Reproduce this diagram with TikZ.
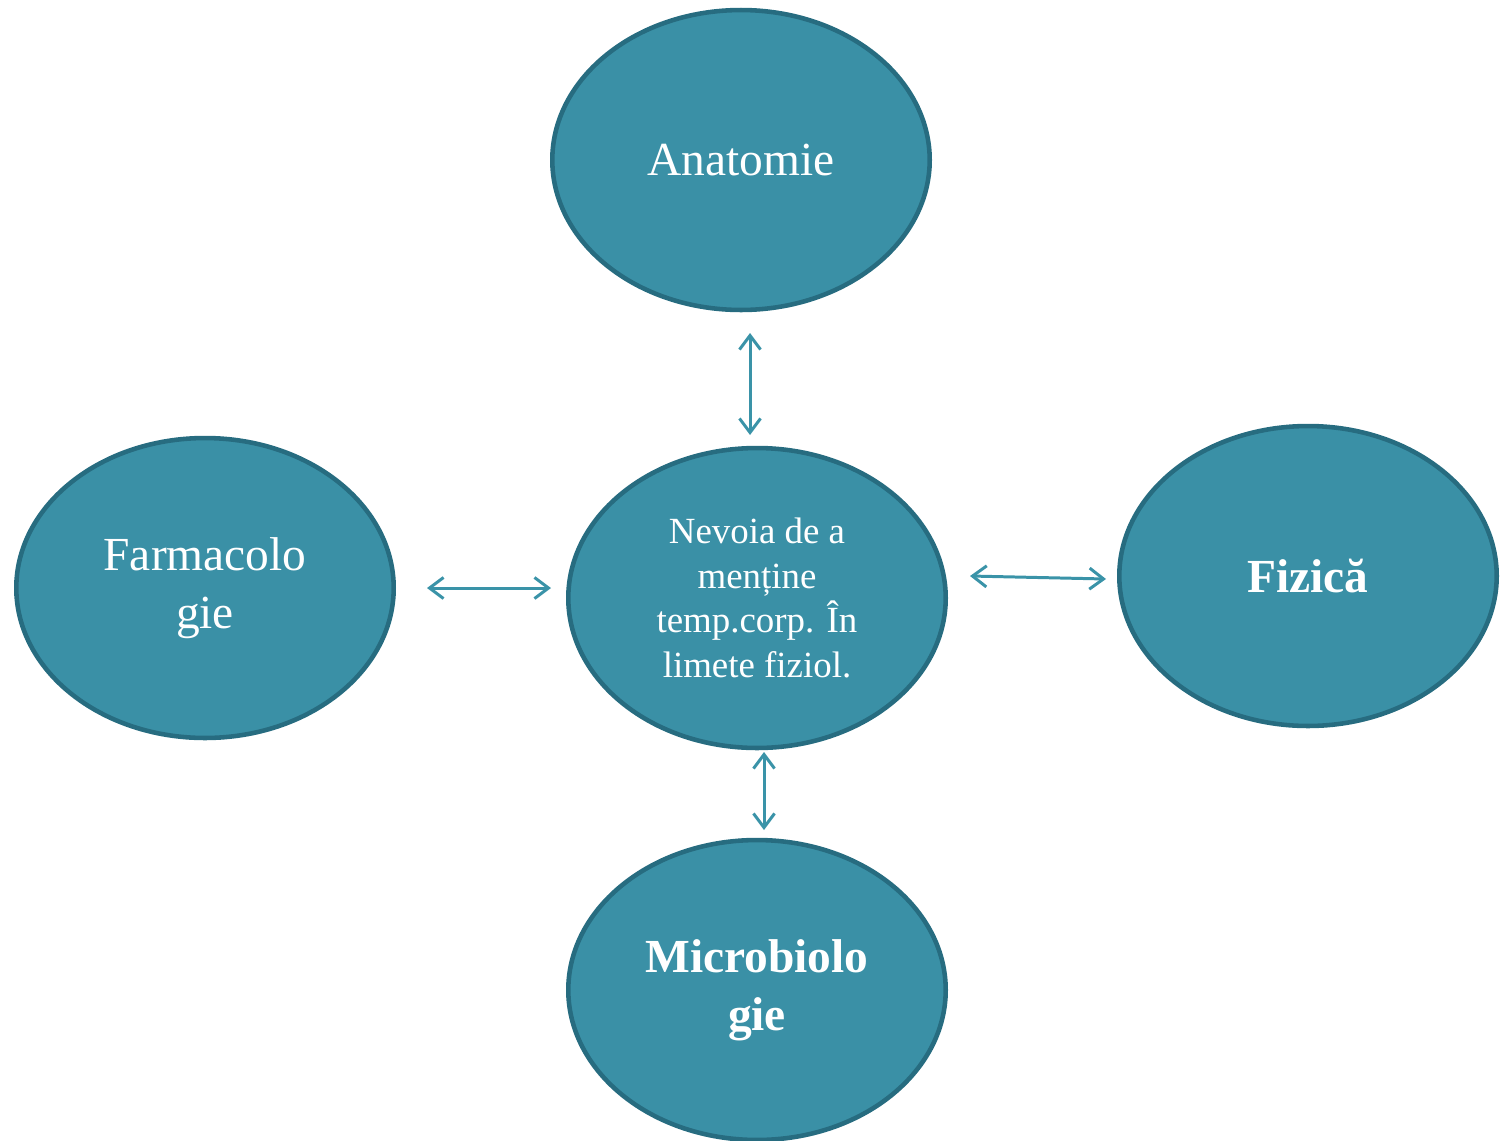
\documentclass[tikz,border=0pt]{standalone}
\usepackage{fontspec}
\setmainfont{Liberation Serif}
\usepackage{tikz}
\usetikzlibrary{shapes.geometric,arrows.meta}

\definecolor{bubblefill}{HTML}{3A90A6}
\definecolor{bubbleline}{HTML}{276C80}
\definecolor{arrowcol}{HTML}{3A93A8}

\begin{document}
\begin{tikzpicture}[x=0.02cm,y=-0.02cm,
    bubble/.style={ellipse, draw=bubbleline, fill=bubblefill, line width=2.6pt,
        minimum width=7.55cm, minimum height=6.0cm, inner sep=0pt,
        text=white, align=center, font=\fontsize{27}{33}\selectfont},
    link/.style={draw=arrowcol, line width=1.7pt,
        {Straight Barb[length=8pt,width=12pt]}-{Straight Barb[length=8pt,width=12pt]}}]
        \useasboundingbox (0,0) rectangle (1507,1140);

        % the five bubbles
        \node[bubble] (anatomie) at (741,160) {Anatomie};
        \node[bubble, font=\fontsize{21}{25.5}\selectfont] (nevoia) at (757,598)
             {Nevoia de a\\ menține\\ temp.corp. În\\ limete fiziol.};
        \node[bubble] (farmaco) at (205,588) {Farmacolo\\ gie};
        \node[bubble, font=\fontsize{27}{33}\selectfont\bfseries] (fizica) at (1308,576) {Fizică};
        \node[bubble, font=\fontsize{27}{33}\selectfont\bfseries] (micro) at (757,990) {Microbiolo\\ gie};

        % arrow ends
        \coordinate (up1) at (750,333);
        \coordinate (up2) at (750,435);
        \coordinate (le1) at (427,588);
        \coordinate (le2) at (551,588);
        \coordinate (ri1) at (970,576);
        \coordinate (ri2) at (1106,579);
        \coordinate (dn1) at (764,752);
        \coordinate (dn2) at (764,830);

        % arrows
        \draw[link] (up1) -- (up2);
        \draw[link] (le1) -- (le2);
        \draw[link] (ri1) -- (ri2);
        \draw[link] (dn1) -- (dn2);
\end{tikzpicture}
\end{document}
